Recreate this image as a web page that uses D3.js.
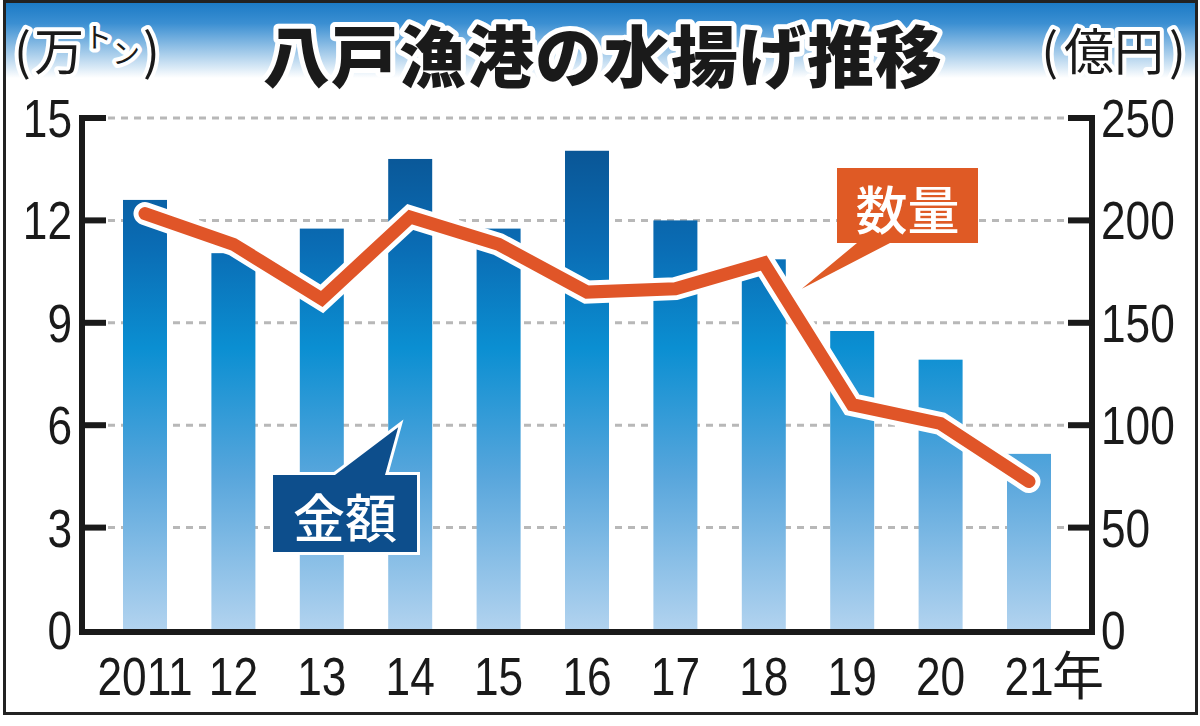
<!DOCTYPE html>
<html>
<head>
<meta charset="utf-8">
<script src="https://cdn.jsdelivr.net/npm/d3@7"></script>
<style>
  html, body { margin: 0; padding: 0; background: #fff; }
  svg { display: block; }
</style>
</head>
<body>
<svg id="chart"></svg>
<script>
// years on the x axis (last label gets 年)
var years = ["2011", "12", "13", "14", "15", "16", "17", "18", "19", "20", "21"];
// 金額 (億円) - bars, right axis
var amount = [210, 184, 196, 230, 196, 234, 200, 181, 146, 132, 86];
// 数量 (万トン) - line, left axis
var volume = [12.2, 11.3, 9.7, 12.1, 11.3, 9.9, 10.0, 10.75, 6.6, 6.05, 4.35];
var leftTicks = [0, 3, 6, 9, 12, 15];
var rightTicks = [0, 50, 100, 150, 200, 250];

var W = 1200, H = 726;
var svg = d3.select("#chart").attr("width", W).attr("height", H);
var defs = svg.append("defs");

var numFont = "'Liberation Sans', Arial, sans-serif";
var jpFont = "'Noto Sans CJK JP', sans-serif";

var plotL = 82, plotR = 1092, plotT = 118, plotB = 630;

var x = d3.scalePoint().domain(years).range([145, 1029]);
var yL = d3.scaleLinear().domain([0, 15]).range([plotB, plotT]);
var yR = d3.scaleLinear().domain([0, 250]).range([plotB, plotT]);
var barW = 44;

// header gradient
var hg = defs.append("linearGradient").attr("id", "hdr")
  .attr("x1", 0).attr("y1", 0).attr("x2", 0).attr("y2", 1);
hg.append("stop").attr("offset", 0).attr("stop-color", "#1878c4");
hg.append("stop").attr("offset", 0.3).attr("stop-color", "#3b8fd2");
hg.append("stop").attr("offset", 1).attr("stop-color", "#ffffff");

// bar gradient shared across the plot height
var bg = defs.append("linearGradient").attr("id", "bar")
  .attr("gradientUnits", "userSpaceOnUse")
  .attr("x1", 0).attr("y1", plotT).attr("x2", 0).attr("y2", plotB);
bg.append("stop").attr("offset", 0).attr("stop-color", "#0a4f8c");
bg.append("stop").attr("offset", 0.25).attr("stop-color", "#0a6cb4");
bg.append("stop").attr("offset", 0.45).attr("stop-color", "#0b8fd2");
bg.append("stop").attr("offset", 0.7).attr("stop-color", "#58a6dc");
bg.append("stop").attr("offset", 1).attr("stop-color", "#b2d3ef");

svg.append("rect").attr("width", W).attr("height", H).attr("fill", "#fff");
svg.append("rect").attr("x", 4).attr("y", 0).attr("width", 1192).attr("height", 78)
  .attr("fill", "url(#hdr)");
svg.append("rect").attr("x", 4).attr("y", 0).attr("width", 1192).attr("height", 3)
  .attr("fill", "#0e3a66");
// outer frame
svg.append("rect").attr("x", 4.5).attr("y", 1.5).attr("width", 1192).attr("height", 712)
  .attr("fill", "none").attr("stroke", "#222").attr("stroke-width", 3);

// grid
svg.append("g").selectAll("line")
  .data(leftTicks.filter(function(d) { return d > 0; }))
  .enter().append("line")
  .attr("x1", 108).attr("x2", 1066)
  .attr("y1", function(d) { return yL(d); })
  .attr("y2", function(d) { return yL(d); })
  .attr("stroke", "#b8b8b8").attr("stroke-width", 3)
  .attr("stroke-dasharray", "7,6");

// bars
svg.append("g").selectAll("rect")
  .data(amount)
  .enter().append("rect")
  .attr("x", function(d, i) { return x(years[i]) - barW / 2; })
  .attr("y", function(d) { return yR(d); })
  .attr("width", barW)
  .attr("height", function(d) { return plotB - yR(d); })
  .attr("fill", "url(#bar)");

// line
var line = d3.line()
  .x(function(d, i) { return x(years[i]); })
  .y(function(d) { return yL(d); });

svg.append("path").attr("d", line(volume))
  .attr("fill", "none").attr("stroke", "#fff").attr("stroke-width", 23)
  .attr("stroke-linecap", "round").attr("stroke-linejoin", "miter");
svg.append("path").attr("d", line(volume))
  .attr("fill", "none").attr("stroke", "#e05528").attr("stroke-width", 13)
  .attr("stroke-linecap", "round").attr("stroke-linejoin", "miter");

// callout 数量
var tipV = [x("18") + 38, yL(10.0)];
var boxV = { x: 837, y: 168, w: 141, h: 75 };
svg.append("path")
  .attr("d", "M" + boxV.x + "," + boxV.y + "h" + boxV.w + "v" + boxV.h +
    "H890L" + tipV[0] + "," + tipV[1] + "L857," + (boxV.y + boxV.h) + "H" + boxV.x + "Z")
  .attr("fill", "#df5a25");
svg.append("text").attr("x", boxV.x + boxV.w / 2).attr("y", boxV.y + boxV.h / 2 + 2)
  .attr("text-anchor", "middle").attr("dominant-baseline", "central")
  .attr("font-family", jpFont).attr("font-size", 52).attr("font-weight", 500)
  .attr("fill", "#fff").text("数量");

// callout 金額
var tipA = [x("14") - 12, yR(99)];
var boxA = { x: 273, y: 475, w: 144, h: 77 };
svg.append("path")
  .attr("d", "M" + boxA.x + "," + boxA.y + "H335L" + tipA[0] + "," + tipA[1] +
    "L385," + boxA.y + "H" + (boxA.x + boxA.w) + "v" + boxA.h + "H" + boxA.x + "Z")
  .attr("fill", "#0d4e8c").attr("stroke", "#fff").attr("stroke-width", 6)
  .attr("stroke-linejoin", "miter").attr("paint-order", "stroke");
svg.append("text").attr("x", boxA.x + boxA.w / 2).attr("y", boxA.y + boxA.h / 2 + 2)
  .attr("text-anchor", "middle").attr("dominant-baseline", "central")
  .attr("font-family", jpFont).attr("font-size", 52).attr("font-weight", 500)
  .attr("fill", "#fff").text("金額");

// axes
var ax = svg.append("g").attr("stroke", "#1a1a1a").attr("stroke-width", 6);
ax.append("line").attr("x1", plotL).attr("x2", plotL).attr("y1", plotT - 3).attr("y2", plotB + 5);
ax.append("line").attr("x1", plotR).attr("x2", plotR).attr("y1", plotT - 3).attr("y2", plotB + 5);
ax.append("line").attr("x1", plotL - 3).attr("x2", plotR + 3).attr("y1", plotB + 2).attr("y2", plotB + 2);
ax.selectAll(".tl").data(leftTicks.filter(function(d) { return d > 0; }))
  .enter().append("line")
  .attr("x1", plotL).attr("x2", plotL + 24)
  .attr("y1", function(d) { return yL(d); }).attr("y2", function(d) { return yL(d); });
ax.selectAll(".tr").data(rightTicks.filter(function(d) { return d > 0; }))
  .enter().append("line")
  .attr("x1", plotR - 24).attr("x2", plotR)
  .attr("y1", function(d) { return yR(d); }).attr("y2", function(d) { return yR(d); });

// tick labels (condensed look)
var sx = 0.82;
svg.append("g").selectAll("text").data(leftTicks).enter().append("text")
  .attr("transform", function(d) { return "translate(72," + (yL(d) + 19) + ") scale(" + sx + ",1)"; })
  .attr("text-anchor", "end")
  .attr("font-family", numFont).attr("font-size", 54).attr("fill", "#1a1a1a")
  .text(function(d) { return d; });

svg.append("g").selectAll("text").data(rightTicks).enter().append("text")
  .attr("transform", function(d) { return "translate(1101," + (yR(d) + 19) + ") scale(" + sx + ",1)"; })
  .attr("text-anchor", "start")
  .attr("font-family", numFont).attr("font-size", 54).attr("fill", "#1a1a1a")
  .text(function(d) { return d; });

svg.append("g").selectAll("text").data(years).enter().append("text")
  .attr("transform", function(d) { return "translate(" + x(d) + ",695) scale(" + sx + ",1)"; })
  .attr("text-anchor", "middle")
  .attr("font-family", numFont).attr("font-size", 54).attr("fill", "#1a1a1a")
  .text(function(d) { return d; });
svg.append("text")
  .attr("x", x("21") + 23).attr("y", 695)
  .attr("font-family", jpFont).attr("font-size", 52).attr("fill", "#1a1a1a")
  .text("年");

// title & units, with white halo
function halo(sel, w) {
  return sel.attr("stroke", "#fff").attr("stroke-width", w)
    .attr("stroke-linejoin", "round").attr("paint-order", "stroke");
}
halo(svg.append("text").attr("x", 603).attr("y", 52)
  .attr("text-anchor", "middle").attr("dominant-baseline", "central")
  .attr("font-family", jpFont).attr("font-size", 67).attr("font-weight", 900)
  .attr("letter-spacing", 1)
  .attr("fill", "#1a1a1a").text("八戸漁港の水揚げ推移"), 10);

var u1 = halo(svg.append("text").attr("x", 14).attr("y", 70)
  .attr("font-family", jpFont).attr("font-size", 50).attr("fill", "#1a1a1a"), 8);
u1.append("tspan").text("(");
u1.append("tspan").attr("dx", 3).text("万");
u1.append("tspan").attr("font-size", 28).attr("dy", -22).text("ト");
u1.append("tspan").attr("font-size", 28).attr("dy", 16).text("ン");
u1.append("tspan").attr("dy", 6).attr("dx", 3).text(")");

var u2 = halo(svg.append("text").attr("x", 1186).attr("y", 70).attr("text-anchor", "end")
  .attr("font-family", jpFont).attr("font-size", 50).attr("fill", "#1a1a1a"), 8);
u2.append("tspan").text("(");
u2.append("tspan").attr("dx", 6).text("億円");
u2.append("tspan").attr("dx", 5).text(")");
</script>
</body>
</html>
